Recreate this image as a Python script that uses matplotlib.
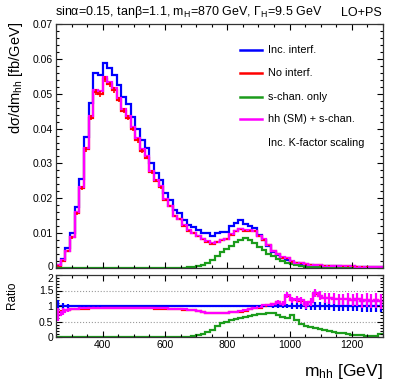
import numpy as np
import matplotlib
matplotlib.use("Agg")
import matplotlib.pyplot as plt
from matplotlib.ticker import MultipleLocator, FuncFormatter

plt.rcParams['font.family'] = ['Liberation Sans', 'DejaVu Sans']
plt.rcParams['mathtext.fontset'] = 'custom'
plt.rcParams['mathtext.rm'] = 'Liberation Sans'
plt.rcParams['mathtext.it'] = 'Liberation Sans:italic'

# binning of m_hh [GeV]
edges = np.arange(250, 1301, 15)

# d sigma / d m_hh [fb/GeV]
inc_interf = [0.0010, 0.0027, 0.0057, 0.0101, 0.0176, 0.0254, 0.0377, 0.0474, 0.0559, 0.0554,
              0.0587, 0.0573, 0.0554, 0.0525, 0.0491, 0.0470, 0.0434, 0.0400, 0.0367, 0.0345,
              0.0300, 0.0272, 0.0253, 0.0214, 0.0195, 0.0165, 0.0157, 0.0138, 0.0123, 0.0117,
              0.0109, 0.0101, 0.0100, 0.0093, 0.0100, 0.0102, 0.0104, 0.0120, 0.0130, 0.0138,
              0.0125, 0.0120, 0.0116, 0.0096, 0.0080, 0.0063, 0.0047, 0.0036, 0.0028, 0.0022,
              0.0015, 0.0013, 0.0011, 0.0010, 0.0009, 0.0007, 0.0006, 0.0006, 0.0005, 0.0005,
              0.0005, 0.0004, 0.0004, 0.0004, 0.0003, 0.0003, 0.0003, 0.0003, 0.0002, 0.0002]
no_interf = [0.0007, 0.0021, 0.0048, 0.0088, 0.0157, 0.0229, 0.0341, 0.0431, 0.0505, 0.0500,
             0.0542, 0.0527, 0.0510, 0.0483, 0.0451, 0.0431, 0.0398, 0.0366, 0.0336, 0.0317,
             0.0275, 0.0250, 0.0231, 0.0195, 0.0177, 0.0148, 0.0140, 0.0120, 0.0107, 0.0100,
             0.0091, 0.0082, 0.0076, 0.0070, 0.0075, 0.0079, 0.0083, 0.0096, 0.0105, 0.0111,
             0.0107, 0.0107, 0.0106, 0.0092, 0.0081, 0.0065, 0.0049, 0.0040, 0.0030, 0.0028,
             0.0018, 0.0015, 0.0013, 0.0011, 0.0010, 0.0009, 0.0008, 0.0007, 0.0007, 0.0006,
             0.0006, 0.0005, 0.0005, 0.0005, 0.0004, 0.0004, 0.0004, 0.0003, 0.0003, 0.0003]
s_chan = [0.0, 0.0, 0.0, 0.0, 0.0, 0.0, 0.0, 0.0, 0.0, 0.0,
          0.0, 0.0, 0.0, 0.0, 0.0, 0.0, 0.0, 0.0, 0.0, 0.0,
          0.0, 0.0, 0.0, 0.0, 0.0, 0.00002, 0.00004, 0.00008, 0.00015, 0.0003,
          0.0006, 0.0010, 0.0015, 0.0023, 0.0034, 0.0045, 0.0054, 0.0064, 0.0074, 0.0081,
          0.0085, 0.0081, 0.0072, 0.0061, 0.0051, 0.0041, 0.0033, 0.0026, 0.0019, 0.0014,
          0.0011, 0.0008, 0.0005, 0.0004, 0.0003, 0.0002, 0.00016, 0.00013, 0.0001, 0.00008,
          0.00007, 0.00005, 0.00004, 0.00003, 0.00002, 0.00002, 0.00001, 0.00001, 0.00001, 0.00002]
hh_s_chan = [0.0008, 0.0022, 0.0049, 0.0090, 0.0160, 0.0233, 0.0345, 0.0436, 0.0512, 0.0507,
             0.0549, 0.0534, 0.0516, 0.0489, 0.0457, 0.0437, 0.0404, 0.0372, 0.0341, 0.0321,
             0.0279, 0.0253, 0.0234, 0.0198, 0.0179, 0.0150, 0.0142, 0.0122, 0.0108, 0.0101,
             0.0092, 0.0083, 0.0077, 0.0071, 0.0076, 0.0080, 0.0084, 0.0097, 0.0106, 0.0112,
             0.0108, 0.0108, 0.0107, 0.0093, 0.0082, 0.0066, 0.0050, 0.0041, 0.0031, 0.0029,
             0.0019, 0.0015, 0.0013, 0.0011, 0.0010, 0.0009, 0.0008, 0.0007, 0.0007, 0.0006,
             0.0006, 0.0005, 0.0005, 0.0005, 0.0004, 0.0004, 0.0004, 0.0003, 0.0003, 0.0003]
no_interf_err = [0.0001, 0.0002, 0.0003, 0.0004, 0.0005, 0.0006, 0.0007, 0.0007, 0.0008, 0.0008,
                 0.0008, 0.0008, 0.0008, 0.0007, 0.0007, 0.0007, 0.0006, 0.0006, 0.0006, 0.0005,
                 0.0005, 0.0004, 0.0004, 0.0004, 0.0003, 0.0003, 0.0003, 0.0002, 0.0002, 0.0002,
                 0.0002, 0.0002, 0.0002, 0.0002, 0.0002, 0.0002, 0.0002, 0.0002, 0.0002, 0.0002,
                 0.0002, 0.0002, 0.0002, 0.0002, 0.0002, 0.0001, 0.0001, 0.0001, 0.0001, 0.0001,
                 0.0001, 0.0001, 0.0001, 0.0001, 0.0001, 0.0001, 0.0001, 0.0001, 0.0001, 0.0001,
                 0.0001, 0.0001, 0.0001, 0.0001, 0.0001, 0.0001, 0.0001, 0.0001, 0.0001, 0.0001]

# ratio to "Inc. interf."
ratio_no_interf = [0.80, 0.85, 0.88, 0.89, 0.90, 0.91, 0.91, 0.92, 0.92, 0.92,
                   0.92, 0.92, 0.92, 0.92, 0.92, 0.92, 0.92, 0.92, 0.92, 0.92,
                   0.92, 0.91, 0.91, 0.91, 0.90, 0.89, 0.89, 0.88, 0.87, 0.86,
                   0.84, 0.80, 0.77, 0.76, 0.76, 0.77, 0.78, 0.80, 0.81, 0.82,
                   0.85, 0.89, 0.92, 0.95, 1.01, 1.03, 1.05, 1.13, 1.08, 1.33,
                   1.19, 1.20, 1.17, 1.03, 1.13, 1.40, 1.33, 1.27, 1.25, 1.24,
                   1.22, 1.21, 1.22, 1.19, 1.21, 1.17, 1.20, 1.16, 1.18, 1.15]
ratio_s_chan = [0.0, 0.0, 0.0, 0.0, 0.0, 0.0, 0.0, 0.0, 0.0, 0.0,
                0.0, 0.0, 0.0, 0.0, 0.0, 0.0, 0.0, 0.0, 0.0, 0.0,
                0.0, 0.0, 0.0, 0.0, 0.0, 0.003, 0.005, 0.008, 0.012, 0.02,
                0.05, 0.10, 0.16, 0.24, 0.34, 0.44, 0.50, 0.55, 0.59, 0.62,
                0.66, 0.68, 0.71, 0.73, 0.75, 0.77, 0.76, 0.72, 0.66, 0.61,
                0.71, 0.55, 0.42, 0.36, 0.32, 0.28, 0.26, 0.22, 0.19, 0.17,
                0.14, 0.12, 0.10, 0.08, 0.06, 0.05, 0.04, 0.04, 0.03, 0.09]
ratio_hh_s_chan = [0.72, 0.82, 0.87, 0.90, 0.91, 0.92, 0.93, 0.93, 0.93, 0.93,
                   0.93, 0.93, 0.93, 0.93, 0.93, 0.93, 0.93, 0.93, 0.93, 0.93,
                   0.93, 0.92, 0.92, 0.92, 0.91, 0.90, 0.90, 0.89, 0.88, 0.87,
                   0.85, 0.81, 0.78, 0.77, 0.77, 0.78, 0.79, 0.81, 0.82, 0.83,
                   0.86, 0.90, 0.93, 0.96, 1.02, 1.04, 1.05, 1.14, 1.08, 1.35,
                   1.20, 1.21, 1.18, 1.03, 1.14, 1.42, 1.33, 1.27, 1.25, 1.24,
                   1.22, 1.21, 1.22, 1.19, 1.21, 1.17, 1.20, 1.16, 1.18, 1.15]
err_inc = [0.18, 0.10, 0.06, 0.04, 0.03, 0.02, 0.02, 0.02, 0.02, 0.02,
           0.015, 0.015, 0.015, 0.015, 0.015, 0.015, 0.015, 0.015, 0.015, 0.015,
           0.015, 0.015, 0.015, 0.015, 0.015, 0.015, 0.015, 0.015, 0.015, 0.015,
           0.015, 0.015, 0.015, 0.015, 0.015, 0.015, 0.015, 0.015, 0.015, 0.015,
           0.015, 0.015, 0.02, 0.02, 0.03, 0.04, 0.05, 0.05, 0.06, 0.08,
           0.10, 0.10, 0.11, 0.12, 0.12, 0.13, 0.13, 0.14, 0.14, 0.15,
           0.15, 0.16, 0.16, 0.17, 0.17, 0.18, 0.18, 0.19, 0.20, 0.20]
err_hh_s_chan = [0.20, 0.10, 0.06, 0.04, 0.03, 0.02, 0.02, 0.02, 0.02, 0.02,
                 0.015, 0.015, 0.015, 0.015, 0.015, 0.015, 0.015, 0.015, 0.015, 0.015,
                 0.015, 0.015, 0.015, 0.015, 0.015, 0.015, 0.015, 0.015, 0.015, 0.015,
                 0.015, 0.015, 0.015, 0.015, 0.015, 0.015, 0.015, 0.015, 0.015, 0.015,
                 0.015, 0.015, 0.02, 0.02, 0.03, 0.04, 0.05, 0.06, 0.07, 0.09,
                 0.10, 0.11, 0.12, 0.12, 0.13, 0.14, 0.15, 0.16, 0.17, 0.18,
                 0.18, 0.19, 0.19, 0.20, 0.21, 0.22, 0.22, 0.23, 0.24, 0.24]

labels = ['Inc. interf.', 'No interf.', 's-chan. only', 'hh (SM) + s-chan.']
colors = ['#0000ff', '#ff0000', '#1c9c1c', '#ff00ff']

centers = 0.5 * (edges[:-1] + edges[1:])
ones = np.ones(len(centers))

W, H = 399, 383
fig = plt.figure(figsize=(W / 100, H / 100), dpi=100)
ax = fig.add_axes([56 / W, 1 - 268 / H, 327 / W, 244 / H])
rax = fig.add_axes([56 / W, 1 - 337 / H, 327 / W, 62 / H])

# main panel
lw = 1.6
ax.stairs(inc_interf, edges, color=colors[0], lw=lw)
ax.stairs(no_interf, edges, color=colors[1], lw=lw)
ax.errorbar(centers, no_interf, yerr=no_interf_err, fmt='none', ecolor=colors[1], elinewidth=1.2)
ax.stairs(s_chan, edges, color=colors[2], lw=lw)
ax.stairs(hh_s_chan, edges, color=colors[3], lw=lw)

# ratio panel
for yv in (0.5, 1.0, 1.5):
    rax.axhline(yv, color='#999999', ls=':', lw=0.8, zorder=0)
rax.stairs(ones, edges, color=colors[0], lw=lw, baseline=None)
rax.errorbar(centers, ones, yerr=err_inc, fmt='none', ecolor=colors[0], elinewidth=1.6)
rax.stairs(ratio_no_interf, edges, color=colors[1], lw=lw, baseline=None)
rax.stairs(ratio_s_chan, edges, color=colors[2], lw=lw, baseline=None)
rax.stairs(ratio_hh_s_chan, edges, color=colors[3], lw=lw, baseline=None)
rax.errorbar(centers, ratio_hh_s_chan, yerr=err_hh_s_chan, fmt='none', ecolor=colors[3], elinewidth=1.6)

# legend (drawn by hand, ROOT style)
rows = [0.893, 0.799, 0.701, 0.611]
for lab, col, yy in zip(labels, colors, rows):
    ax.plot([0.563, 0.630], [yy, yy], color=col, lw=1.8, transform=ax.transAxes)
    ax.text(0.648, yy, lab, transform=ax.transAxes, va='center', ha='left', fontsize=7.8)
ax.text(0.648, 0.512, 'Inc. K-factor scaling', transform=ax.transAxes, va='center', ha='left', fontsize=7.8)

# axes styling
for a in (ax, rax):
    a.set_xlim(250, 1300)
    a.xaxis.set_major_locator(MultipleLocator(200))
    a.xaxis.set_minor_locator(MultipleLocator(50))
    a.tick_params(which='both', direction='in', top=True, right=True, labelsize=7.5, width=0.8, pad=2)
    a.tick_params(which='major', length=4.5)
    a.tick_params(which='minor', length=2.2)
    for sp in a.spines.values():
        sp.set_color('#333333')
        sp.set_linewidth(0.9)

# the lowest main label and the top ratio label are placed by hand below,
# so that they sit next to each other as in the original
ax.set_ylim(0, 0.07)
ax.yaxis.set_major_locator(MultipleLocator(0.01))
ax.yaxis.set_minor_locator(MultipleLocator(0.002))
ax.yaxis.set_major_formatter(FuncFormatter(lambda v, p: '' if abs(v) < 1e-9 else f'{v:.2f}'))
ax.tick_params(labelbottom=False)
ax.set_ylabel('dσ/dm$_{\\mathrm{hh}}$ [fb/GeV]', loc='top', fontsize=10.5)
ax.yaxis.set_label_coords(-0.095, 1.01)

rax.set_ylim(0, 2)
rax.yaxis.set_major_locator(MultipleLocator(0.5))
rax.yaxis.set_minor_locator(MultipleLocator(0.1))
rax.yaxis.set_major_formatter(FuncFormatter(lambda v, p: '' if v > 1.99 else f'{v:g}'))
rax.set_ylabel('Ratio', fontsize=8.5)
rax.yaxis.set_label_coords(-0.115, 0.68)
rax.set_xlabel('m$_{\\mathrm{hh}}$ [GeV]', loc='right', fontsize=12.5)
rax.xaxis.set_label_coords(1.0, -0.40)

fig.text(53 / W, 1 - 266.5 / H, '0', fontsize=7.5, ha='right', va='center')
fig.text(53 / W, 1 - 278.5 / H, '2', fontsize=7.5, ha='right', va='center')

fig.text(55 / W, 1 - 15.5 / H, 'sinα=0.15, tanβ=1.1, m$_{\\mathrm{H}}$=870 GeV, Γ$_{\\mathrm{H}}$=9.5 GeV',
         fontsize=9, ha='left', va='baseline')
fig.text(382 / W, 1 - 15.5 / H, 'LO+PS', fontsize=9, ha='right', va='baseline')

fig.savefig('out.png', dpi=100)
